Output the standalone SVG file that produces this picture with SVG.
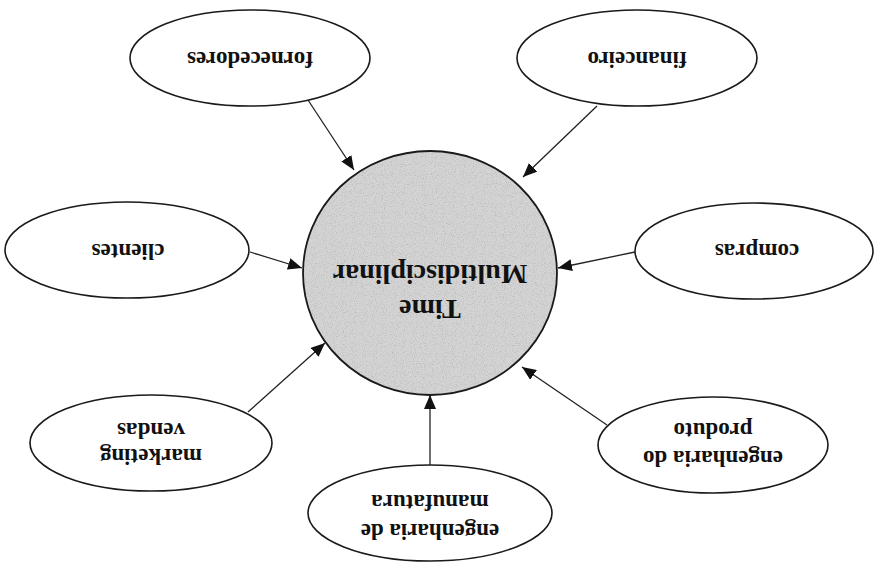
<svg xmlns="http://www.w3.org/2000/svg" width="874" height="562" viewBox="0 0 874 562">
  <style>
    .node { fill: #ffffff; stroke: #1a1a1a; stroke-width: 1.6; }
    .hub-fill { fill: #d4d4d4; }
    .hub-edge { fill: none; stroke: #1a1a1a; stroke-width: 1.8; }
    .lbl { font-family: "Liberation Serif", "Times New Roman", serif; font-weight: bold; font-size: 23px; fill: #111111; text-anchor: middle; }
    .hub-lbl { font-family: "Liberation Serif", "Times New Roman", serif; font-weight: bold; font-size: 28px; fill: #111111; text-anchor: middle; }
    .link { stroke: #222222; stroke-width: 1.3; fill: none; marker-end: url(#arrow); }
  </style>
  <defs>
    <marker id="arrow" markerUnits="userSpaceOnUse" markerWidth="14" markerHeight="12" refX="14" refY="6" orient="auto">
      <path d="M0,0 L14,6 L0,12 z" fill="#111111"/>
    </marker>
    <!-- halftone-like speckle for the central disc -->
    <filter id="grain" x="0" y="0" width="100%" height="100%">
      <feTurbulence type="fractalNoise" baseFrequency="0.9" numOctaves="2" seed="7" result="noise"/>
      <feColorMatrix in="noise" type="matrix" values="0 0 0 0 0.45  0 0 0 0 0.45  0 0 0 0 0.45  0 0 0 2.2 -1.05" result="specks"/>
      <feComposite in="specks" in2="SourceGraphic" operator="in" result="clipped"/>
      <feMerge><feMergeNode in="SourceGraphic"/><feMergeNode in="clipped"/></feMerge>
    </filter>
  </defs>

  <rect width="874" height="562" fill="#ffffff"/>

  <!-- connectors: each department points at the team -->
  <g id="connectors">
    <line class="link" x1="308" y1="100" x2="354" y2="170"/>
    <line class="link" x1="597" y1="106" x2="523" y2="177"/>
    <line class="link" x1="250" y1="252" x2="302" y2="268"/>
    <line class="link" x1="635" y1="252" x2="558" y2="268"/>
    <line class="link" x1="607" y1="425" x2="522" y2="367"/>
    <line class="link" x1="430" y1="467" x2="430" y2="395"/>
    <line class="link" x1="248" y1="412" x2="325" y2="343"/>
  </g>

  <!-- central hub -->
  <g id="hub">
    <ellipse class="hub-fill" cx="430" cy="273" rx="127" ry="122" filter="url(#grain)"/>
    <ellipse class="hub-edge" cx="430" cy="273" rx="127" ry="122"/>
    <g transform="rotate(180 430 285)">
      <text class="hub-lbl" x="430" y="270">Time</text>
      <text class="hub-lbl" x="430" y="305">Multidisciplinar</text>
    </g>
  </g>

  <g id="fornecedores">
    <ellipse class="node" cx="250" cy="58" rx="120" ry="48"/>
    <text class="lbl" x="250" y="64" transform="rotate(180 250 58)">fornecedores</text>
  </g>

  <g id="financeiro">
    <ellipse class="node" cx="637" cy="58" rx="120" ry="48"/>
    <text class="lbl" x="637" y="64" transform="rotate(180 637 58)">financeiro</text>
  </g>

  <g id="clientes">
    <ellipse class="node" cx="127" cy="250" rx="122" ry="48"/>
    <text class="lbl" x="128" y="256" transform="rotate(180 128 250)">clientes</text>
  </g>

  <g id="compras">
    <ellipse class="node" cx="754" cy="251" rx="119" ry="48"/>
    <text class="lbl" x="757" y="256" transform="rotate(180 757 250)">compras</text>
  </g>

  <g id="engenharia-produto">
    <ellipse class="node" cx="713" cy="445" rx="115" ry="48"/>
    <g transform="rotate(180 713 442)">
      <text class="lbl" x="713" y="433">engenharia do</text>
      <text class="lbl" x="713" y="461">produto</text>
    </g>
  </g>

  <g id="engenharia-manufatura">
    <ellipse class="node" cx="430" cy="513" rx="122" ry="48"/>
    <g transform="rotate(180 430 514)">
      <text class="lbl" x="430" y="504">engenharia de</text>
      <text class="lbl" x="430" y="533">manufatura</text>
    </g>
  </g>

  <g id="marketing-vendas">
    <ellipse class="node" cx="151" cy="443" rx="121" ry="48"/>
    <g transform="rotate(180 151 441)">
      <text class="lbl" x="151" y="433">marketing</text>
      <text class="lbl" x="151" y="459">vendas</text>
    </g>
  </g>
</svg>
